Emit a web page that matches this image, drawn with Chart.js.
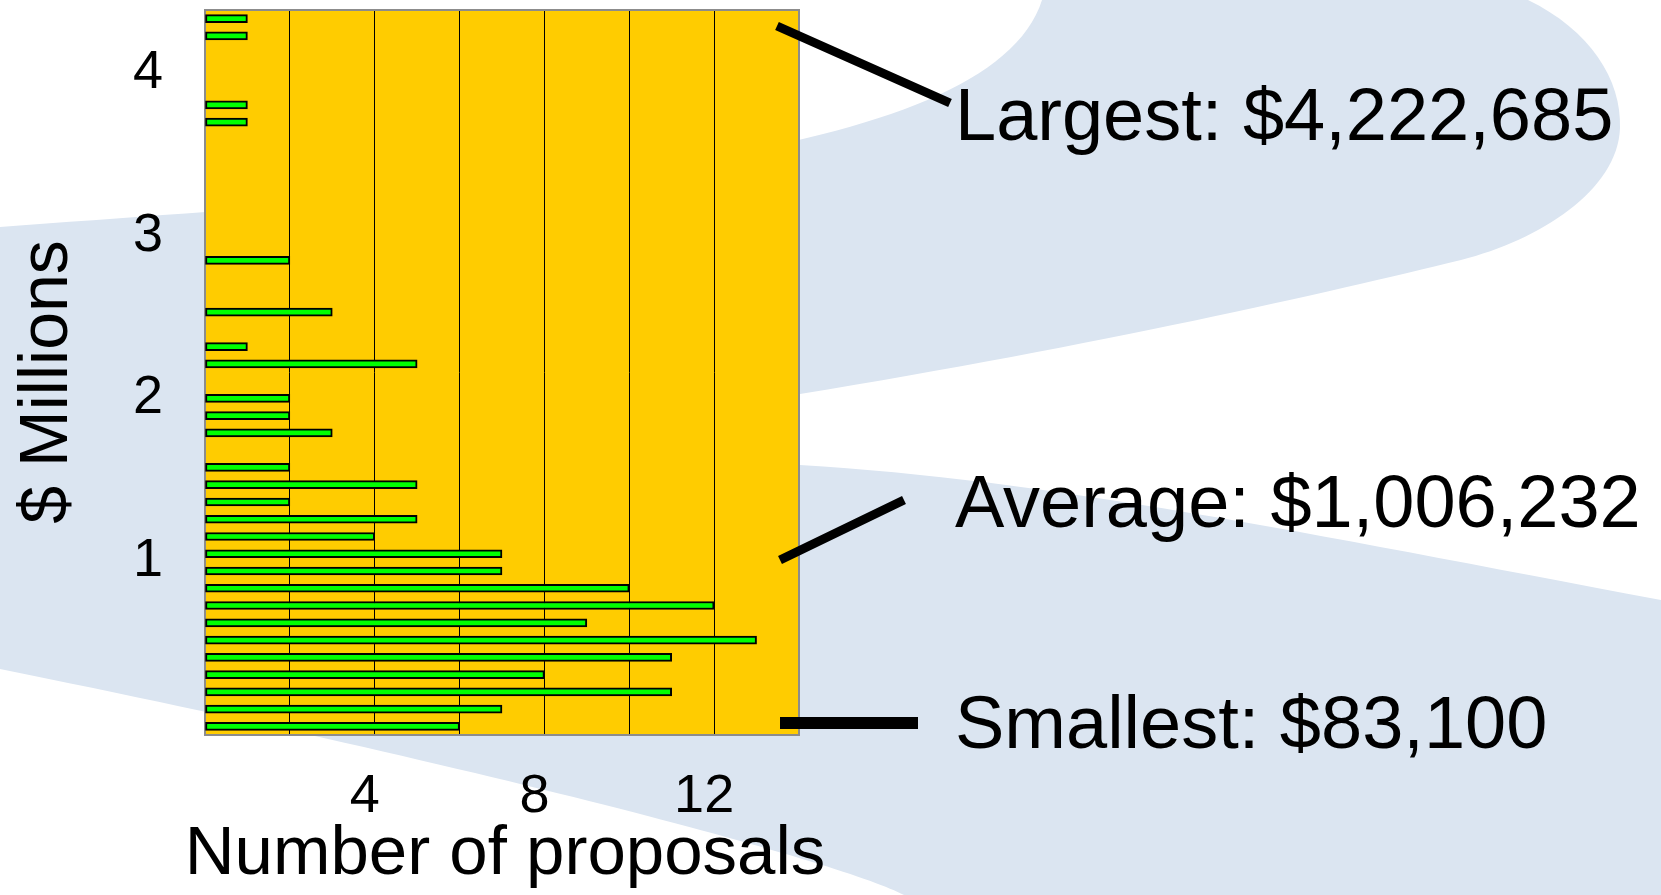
<!DOCTYPE html>
<html>
<head>
<meta charset="utf-8">
<title>Proposal sizes</title>
<script src="https://cdn.jsdelivr.net/npm/chart.js@4/dist/chart.umd.min.js"></script>
<style>
  html, body { margin: 0; padding: 0; background: #fff; }
  #wrap { width: 1661px; height: 895px; position: relative; }
</style>
</head>
<body>
<div id="wrap"><canvas id="histChart"></canvas></div>
<script>
// size bins ($ millions), bottom of the axis first
const binLabels = [
  '0.0-0.1', '0.1-0.2', '0.2-0.3', '0.3-0.4', '0.4-0.5', '0.5-0.6', '0.6-0.7',
  '0.7-0.8', '0.8-0.9', '0.9-1.0', '1.0-1.1', '1.1-1.2', '1.2-1.3', '1.3-1.4',
  '1.4-1.5', '1.5-1.6', '1.6-1.7', '1.7-1.8', '1.8-1.9', '1.9-2.0', '2.0-2.1',
  '2.1-2.2', '2.2-2.3', '2.3-2.4', '2.4-2.5', '2.5-2.6', '2.6-2.7', '2.7-2.8',
  '2.8-2.9', '2.9-3.0', '3.0-3.1', '3.1-3.2', '3.2-3.3', '3.3-3.4', '3.4-3.5',
  '3.5-3.6', '3.6-3.7', '3.7-3.8', '3.8-3.9', '3.9-4.0', '4.0-4.1', '4.1-4.2'
]
const proposalCounts = [
  6, 7, 11, 8, 11, 13, 9, 12, 10, 7, 7, 4, 5, 2, 5, 2, 0, 3, 2, 2, 0,
  5, 1, 0, 3, 0, 0, 2, 0, 0, 0, 0, 0, 0, 0, 1, 1, 0, 0, 0, 1, 1
]
const yTicks = [1, 2, 3, 4]
const xLabelTicks = [4, 8, 12]
const countMax = 14
const xTitle = 'Number of proposals'
const calloutTexts = ['Largest: $4,222,685', 'Average: $1,006,232', 'Smallest: $83,100']

const FONT = '"Liberation Sans", Arial, sans-serif'
Chart.defaults.font.family = FONT
Chart.defaults.color = '#000'

const slidePlugin = {
  id: 'slide',
  beforeDraw(chart) {
    const { ctx, chartArea: a } = chart
    ctx.save()
    ctx.fillStyle = '#fff'
    ctx.fillRect(0, 0, chart.width, chart.height)

    // light blue swoosh behind everything
    ctx.fillStyle = '#dbe5f1'
    ctx.beginPath()
    ctx.moveTo(0, 227)
    ctx.bezierCurveTo(500, 190, 990, 165, 1042, 0)
    ctx.lineTo(1528, 0)
    ctx.bezierCurveTo(1590, 30, 1622, 80, 1620, 128)
    ctx.bezierCurveTo(1618, 190, 1540, 240, 1461, 260)
    ctx.bezierCurveTo(1330, 292, 1100, 345, 800, 394)
    ctx.lineTo(450, 440)
    ctx.lineTo(800, 465)
    ctx.bezierCurveTo(1050, 480, 1300, 532, 1661, 600)
    ctx.lineTo(1661, 895)
    ctx.lineTo(904, 895)
    ctx.bezierCurveTo(850, 865, 500, 770, 0, 669)
    ctx.closePath()
    ctx.fill()

    ctx.fillStyle = '#ffcc00'
    ctx.fillRect(a.left, a.top, a.right - a.left, a.bottom - a.top)
    ctx.restore()
  },
  beforeDatasetsDraw(chart) {
    const { ctx, chartArea: a } = chart
    ctx.save()
    ctx.strokeStyle = '#8c8c8c'
    ctx.lineWidth = 2
    ctx.strokeRect(a.left, a.top, a.right - a.left, a.bottom - a.top)
    ctx.restore()
  },
  afterDraw(chart) {
    const { ctx } = chart
    const x = chart.scales.x
    ctx.save()

    // x axis title, drawn here so it is not squeezed to the axis width
    ctx.fillStyle = '#000'
    ctx.font = '69px ' + FONT
    ctx.textAlign = 'center'
    ctx.textBaseline = 'alphabetic'
    ctx.fillText(xTitle, (x.left + x.right) / 2 + 3, 874)

    ctx.strokeStyle = '#000'
    ctx.lineCap = 'butt'
    ctx.lineWidth = 9
    ctx.beginPath()
    ctx.moveTo(777, 26)
    ctx.lineTo(950, 103)
    ctx.moveTo(780, 560)
    ctx.lineTo(904, 500)
    ctx.stroke()

    ctx.lineWidth = 12
    ctx.beginPath()
    ctx.moveTo(780, 723)
    ctx.lineTo(918, 723)
    ctx.stroke()

    ctx.font = '74px ' + FONT
    ctx.textAlign = 'left'
    ctx.fillText(calloutTexts[0], 955, 140)
    ctx.fillText(calloutTexts[1], 955, 527)
    ctx.fillText(calloutTexts[2], 955, 748)
    ctx.restore()
  }
}

const ctx = document.getElementById('histChart').getContext('2d')
const histChart = new Chart(ctx, {
  type: 'bar',
  data: {
    labels: binLabels,
    datasets: [{
      data: proposalCounts,
      backgroundColor: '#00ff00',
      borderColor: '#000',
      borderWidth: 2,
      borderSkipped: false,
      barThickness: 8
    }]
  },
  options: {
    indexAxis: 'y',
    responsive: true,
    maintainAspectRatio: false,
    animation: false,
    layout: { padding: { top: 10, right: 862, left: 0, bottom: 0 } },
    plugins: {
      legend: { display: false },
      tooltip: { enabled: false }
    },
    scales: {
      x: {
        type: 'linear',
        position: 'bottom',
        min: 0,
        max: countMax,
        grid: {
          color: c => (c.tick.value === 0 || c.tick.value === countMax) ? 'rgba(0,0,0,0)' : '#000',
          lineWidth: 1,
          drawTicks: false
        },
        border: { display: false },
        ticks: {
          stepSize: 2,
          autoSkip: false,
          maxRotation: 0,
          padding: 35,
          labelOffset: -10,
          font: { size: 54, lineHeight: 1 },
          callback: v => xLabelTicks.includes(v) ? v : ''
        },
        afterFit: s => {
          s.height = 160
          s.paddingLeft = 0
          s.paddingRight = 0
        }
      },
      y: { display: false, reverse: true },
      yv: {
        type: 'linear',
        position: 'left',
        offset: false,
        min: -0.071,
        max: 4.391,
        grid: { display: false, drawTicks: false, offset: false },
        border: { display: false },
        afterBuildTicks: s => { s.ticks = yTicks.map(v => ({ value: v })) },
        ticks: {
          padding: 42,
          font: { size: 54, lineHeight: 1 }
        },
        title: {
          display: true,
          text: '$ Millions ',
          font: { size: 68, lineHeight: 1 },
          padding: { top: 14, bottom: 0 }
        },
        afterFit: s => {
          s.width = 205
          s.paddingTop = 0
          s.paddingBottom = 0
        }
      }
    }
  },
  plugins: [slidePlugin]
})
</script>
</body>
</html>
